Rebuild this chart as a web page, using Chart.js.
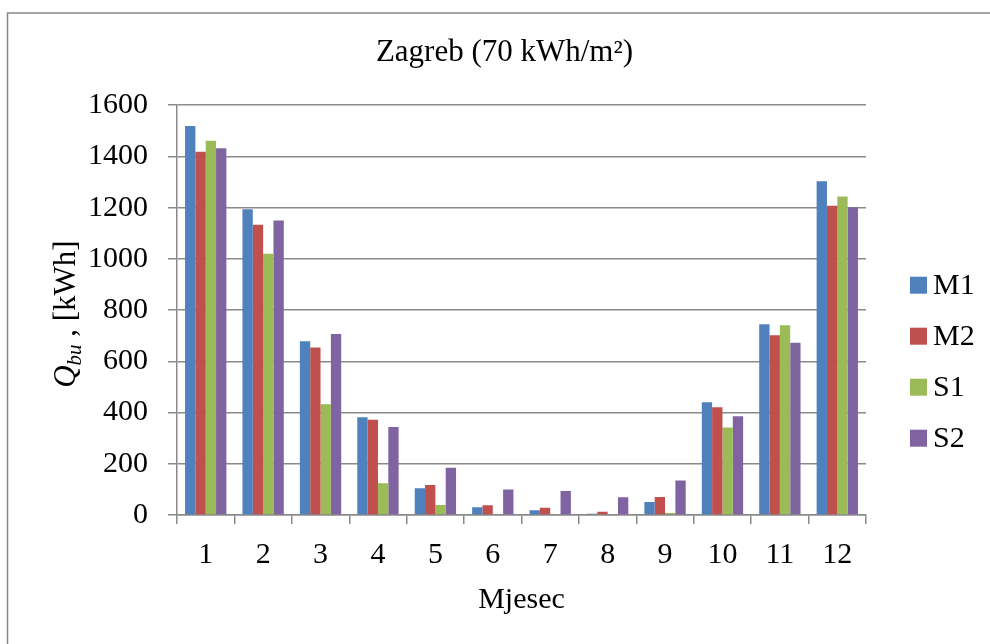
<!DOCTYPE html>
<html>
<head>
<meta charset="utf-8">
<script src="https://cdn.jsdelivr.net/npm/chart.js@4/dist/chart.umd.min.js"></script>
<style>
  html, body { margin: 0; padding: 0; background: #fff; }
  #wrap { width: 990px; height: 644px; position: relative; }
</style>
</head>
<body>
<div id="wrap"><canvas id="chart"></canvas></div>
<script>
// Zagreb (70 kWh/m2) — monthly Q_bu per variant

const months = ['1', '2', '3', '4', '5', '6', '7', '8', '9', '10', '11', '12'];
const seriesNames = ['M1', 'M2', 'S1', 'S2'];
const m1 = [1519, 1194, 678, 382, 104, 30, 19, 5, 51, 440, 745, 1303];
const m2 = [1418, 1133, 654, 372, 117, 38, 28, 13, 70, 421, 702, 1207];
const s1 = [1461, 1020, 432, 124, 39, 0, 0, 0, 8, 342, 741, 1244];
const s2 = [1432, 1150, 707, 344, 184, 100, 94, 69, 135, 386, 673, 1202];
const yTicks = [0, 200, 400, 600, 800, 1000, 1200, 1400, 1600];

const COLORS = ['#4f81bd', '#c0504d', '#9bbb59', '#8064a2'];
const GRID = '#8a8a8a';
const FONT = '"Liberation Serif", "Times New Roman", serif';

Chart.defaults.font.family = FONT;
Chart.defaults.font.size = 30;
Chart.defaults.color = '#000';

// Excel-like legend on the right, as its own layout box
function makeSideLegend(chart) {
  return {
    position: 'right',
    weight: 0,
    fullSize: false,
    options: {},
    isHorizontal() { return false; },
    update(maxWidth, maxHeight) { this.width = 124; this.height = maxHeight; },
    draw() {
      const ctx = chart.ctx;
      ctx.save();
      ctx.font = '30px ' + FONT;
      ctx.textBaseline = 'middle';
      ctx.textAlign = 'left';
      chart.data.datasets.forEach((ds, i) => {
        const cy = this.top + 180 + i * 51;
        ctx.fillStyle = ds.backgroundColor;
        ctx.fillRect(this.left + 44, cy - 8.5, 17, 17);
        ctx.fillStyle = '#000';
        ctx.fillText(ds.label, this.left + 67, cy + 1);
      });
      ctx.restore();
    }
  };
}

const sideLegend = {
  id: 'sideLegend',
  beforeInit(chart) { Chart.layouts.addBox(chart, makeSideLegend(chart)); }
};

// outer frame + y axis title with subscript
const decorations = {
  id: 'decorations',
  beforeDraw(chart) {
    const ctx = chart.ctx;
    ctx.save();
    ctx.fillStyle = '#fff';
    ctx.fillRect(0, 0, chart.width, chart.height);
    ctx.strokeStyle = '#888';
    ctx.lineWidth = 1.5;
    ctx.strokeRect(7.5, 13, 1200, 1200);
    ctx.restore();
  },
  afterDraw(chart) {
    const ctx = chart.ctx;
    const a = chart.chartArea;
    const parts = [
      { t: 'Q', f: 'italic 31px ' + FONT, dy: 0 },
      { t: 'bu', f: 'italic 21px ' + FONT, dy: 6 },
      { t: ' , [kWh]', f: '31px ' + FONT, dy: 0 }
    ];
    ctx.save();
    let total = 0;
    parts.forEach(p => { ctx.font = p.f; p.w = ctx.measureText(p.t).width; total += p.w; });
    ctx.translate(75, (a.top + a.bottom) / 2 + 4);
    ctx.rotate(-Math.PI / 2);
    ctx.fillStyle = '#000';
    ctx.textBaseline = 'alphabetic';
    let x = -total / 2;
    parts.forEach(p => { ctx.font = p.f; ctx.fillText(p.t, x, p.dy); x += p.w; });
    ctx.restore();
  }
};

const datasets = [m1, m2, s1, s2].map((vals, i) => ({
  label: seriesNames[i],
  data: vals,
  backgroundColor: COLORS[i],
  borderWidth: 0,
  categoryPercentage: 0.72,
  barPercentage: 1.0
}));

new Chart(document.getElementById('chart'), {
  type: 'bar',
  data: { labels: months, datasets },
  options: {
    responsive: true, maintainAspectRatio: false, animation: false,
    layout: { padding: { left: 19, right: 0, top: 0, bottom: 0 } },
    plugins: {
      legend: { display: false },
      tooltip: { enabled: false },
      title: {
        display: true,
        text: 'Zagreb (70 kWh/m²)',
        color: '#000',
        font: { size: 31, weight: 'normal' },
        padding: { top: 34, bottom: 34 }
      }
    },
    scales: {
      x: {
        afterFit: s => { s.height = 129; },
        grid: { offset: true, drawOnChartArea: false, drawTicks: true, tickLength: 9, color: GRID, lineWidth: 1.5 },
        border: { color: GRID, width: 1.5 },
        ticks: { padding: 13, maxRotation: 0, color: '#000' },
        title: { display: true, text: 'Mjesec', color: '#000', padding: { top: 9, bottom: 26 } }
      },
      y: {
        min: 0, max: 1600,
        afterFit: s => { s.width = 158; },
        afterBuildTicks: s => { s.ticks = yTicks.map(v => ({ value: v })); },
        grid: { color: GRID, lineWidth: 1.5, tickLength: 9 },
        border: { color: GRID, width: 1.5 },
        ticks: { padding: 20, color: '#000', callback: v => String(v) }
      }
    }
  },
  plugins: [sideLegend, decorations]
});
</script>
</body>
</html>
